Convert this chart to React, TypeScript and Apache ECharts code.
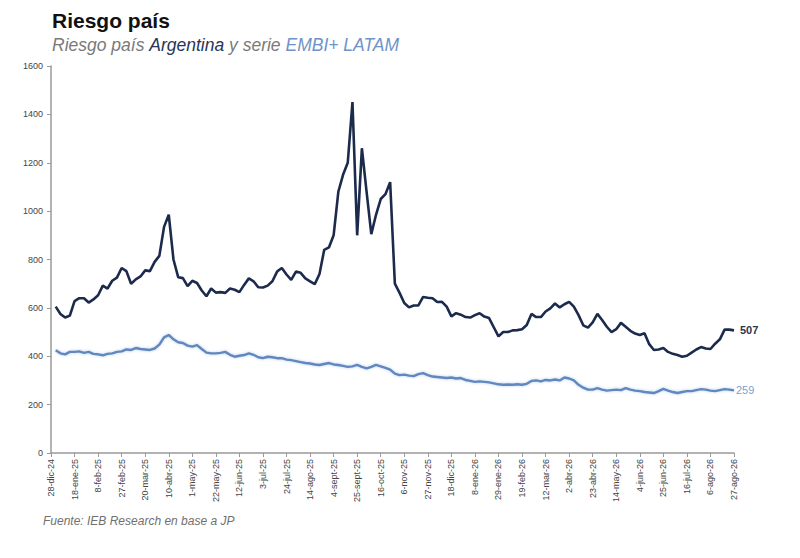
import { useEffect, useRef } from 'react';
import * as echarts from 'echarts';

// x-axis tick labels, one every 5 data points
const tickLabels = [
  '28-dic-24', '18-ene-25', '8-feb-25', '27-feb-25', '20-mar-25', '10-abr-25', '1-may-25',
  '22-may-25', '12-jun-25', '3-jul-25', '24-jul-25', '14-ago-25', '4-sept-25', '25-sept-25',
  '16-oct-25', '6-nov-25', '27-nov-25', '18-dic-25', '8-ene-26', '29-ene-26', '19-feb-26',
  '12-mar-26', '2-abr-26', '23-abr-26', '14-may-26', '4-jun-26', '25-jun-26', '16-jul-26',
  '6-ago-26', '27-ago-26',
];
const STEP = 5;

const argentina = [
  null, 605, 575, 560, 568, 628, 640, 640, 622, 635,
  652, 692, 680, 712, 725, 765, 752, 700, 718, 730,
  755, 752, 790, 815, 935, 985, 800, 727, 723, 690,
  712, 703, 672, 648, 680, 663, 665, 662, 680, 675,
  665, 695, 722, 710, 685, 684, 692, 710, 750, 765,
  738, 716, 750, 745, 722, 710, 698, 740, 840, 850,
  900, 1080, 1150, 1200, 1451, 900, 1260, 1080, 905, 985,
  1050, 1070, 1120, 700, 662, 620, 602, 610, 610, 645,
  642, 640, 624, 625, 605, 565, 578, 572, 562, 560,
  570, 578, 564, 558, 520, 482, 500, 500, 507, 508,
  512, 529, 575, 562, 562, 585, 598, 618, 602, 615,
  625, 605, 570, 528, 518, 540, 575, 550, 522, 500,
  512, 538, 522, 505, 494, 488, 495, 450, 426, 428,
  434, 418, 410, 405, 398, 402, 415, 428, 438, 432,
  430, 452, 470, 510, 510, 507,
];

const embi = [
  null, 425, 412, 408, 418, 418, 420, 414, 418, 410,
  408, 404, 410, 412, 418, 420, 428, 426, 434, 430,
  428, 426, 432, 448, 478, 488, 470, 458, 455, 444,
  440, 446, 430, 415, 412, 412, 414, 418, 406, 398,
  402, 405, 412, 406, 396, 392, 398, 396, 392, 392,
  386, 384, 380, 376, 372, 370, 366, 364, 368, 372,
  366, 364, 360, 356, 358, 364, 356, 350, 356, 364,
  358, 352, 345, 328, 322, 324, 320, 318, 326, 330,
  322, 316, 314, 312, 310, 312, 308, 310, 302, 298,
  294, 296, 294, 292, 288, 284, 282, 283, 282, 284,
  282, 286, 298, 300, 296, 302, 300, 304, 300, 312,
  308, 300, 282, 270, 262, 262, 268, 262, 258, 260,
  262, 260, 268, 262, 258, 256, 252, 250, 248, 256,
  265, 258, 252, 248, 252, 256, 256, 260, 264, 262,
  258, 256, 260, 264, 262, 259,
];

const categories = tickLabels.flatMap((t, k) =>
  k < tickLabels.length - 1 ? [t, ...Array(STEP - 1).fill('')] : [t]
);

const FONT = '"Liberation Sans", Arial, sans-serif';

export default function App() {
  const chartRef = useRef<HTMLDivElement>(null);

  useEffect(() => {
    document.body.style.margin = '0';
    if (!chartRef.current) return;
    const chart = echarts.init(chartRef.current, undefined, { renderer: 'svg' });

    chart.setOption({
      animation: false,
      backgroundColor: '#ffffff',
      textStyle: { fontFamily: FONT },
      title: {
        left: 52,
        top: 10,
        padding: 0,
        itemGap: 5,
        text: 'Riesgo país',
        textStyle: { fontFamily: FONT, fontSize: 21, fontWeight: 'bold', color: '#111111' },
        subtext: '{a|Riesgo país }{b|Argentina}{a| y serie }{c|EMBI+ LATAM}',
        subtextStyle: {
          rich: {
            a: { fontFamily: FONT, fontSize: 17.5, fontStyle: 'italic', color: '#7a7a7a' },
            b: { fontFamily: FONT, fontSize: 17.5, fontStyle: 'italic', color: '#26355a' },
            c: { fontFamily: FONT, fontSize: 17.5, fontStyle: 'italic', color: '#6f93c8' },
          },
        },
      },
      graphic: [
        {
          type: 'text',
          left: 43,
          top: 515,
          style: {
            text: 'Fuente: IEB Research en base a JP',
            fontFamily: FONT,
            fontSize: 12,
            fontStyle: 'italic',
            fill: '#707070',
          },
        },
      ],
      grid: { left: 51, right: 66, top: 66, bottom: 105 },
      xAxis: {
        type: 'category',
        boundaryGap: false,
        data: categories,
        axisLine: { lineStyle: { color: '#9a9a9a', width: 1.5 } },
        axisTick: { interval: STEP - 1, length: 4, lineStyle: { color: '#9a9a9a' } },
        axisLabel: {
          interval: STEP - 1,
          rotate: 90,
          margin: 6,
          fontSize: 9,
          color: '#444444',
          fontFamily: FONT,
        },
        splitLine: { show: false },
      },
      yAxis: {
        type: 'value',
        min: 0,
        max: 1600,
        interval: 200,
        axisLine: { show: true, lineStyle: { color: '#9a9a9a', width: 1.5 } },
        axisTick: { show: true, length: 4, lineStyle: { color: '#9a9a9a' } },
        axisLabel: {
          fontSize: 9,
          color: '#444444',
          margin: 8,
          fontFamily: FONT,
          formatter: (v: number) => String(v),
        },
        splitLine: { show: false },
      },
      series: [
        {
          name: 'EMBI+ LATAM',
          type: 'line',
          data: embi,
          symbol: 'none',
          lineStyle: {
            color: '#6088bf',
            width: 2.4,
            shadowColor: 'rgba(140, 175, 225, 0.6)',
            shadowBlur: 3,
          },
          endLabel: {
            show: true,
            formatter: '{c}',
            distance: 2,
            color: '#7c9fd0',
            fontSize: 11,
            fontFamily: FONT,
          },
          z: 2,
        },
        {
          name: 'Argentina',
          type: 'line',
          data: argentina,
          symbol: 'none',
          lineStyle: { color: '#1c2a4c', width: 2.6 },
          endLabel: {
            show: true,
            formatter: '{c}',
            distance: 6,
            color: '#2a3550',
            fontWeight: 'bold',
            fontSize: 11,
            fontFamily: FONT,
          },
          z: 3,
        },
      ],
    });

    return () => {
      chart.dispose();
    };
  }, []);

  return <div ref={chartRef} style={{ width: 800, height: 558 }} />;
}
